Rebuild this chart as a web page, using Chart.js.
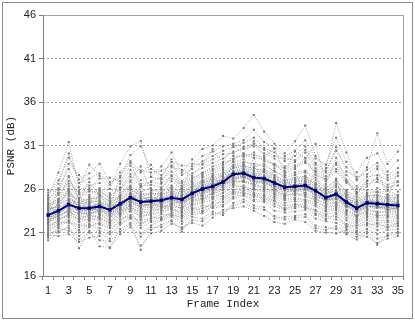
<!DOCTYPE html>
<html>
<head>
<meta charset="utf-8">
<script src="https://cdn.jsdelivr.net/npm/chart.js@4.4.0/dist/chart.umd.min.js"></script>
<style>
  body { margin: 0; background: #fff; }
  #wrap { width: 415px; height: 321px; }
</style>
</head>
<body>
<div id="wrap"><canvas id="psnr"></canvas></div>
<script>
// frame indices on the x axis
var frames = [];
for (var f = 1; f <= 35; f++) frames.push(String(f));

var yTicks = [16, 21, 26, 31, 36, 41, 46];

// average PSNR (bold navy line)
var meanPsnr = [23.0,23.5,24.2,23.8,23.8,24.0,23.6,24.3,25.0,24.5,24.6,24.7,25.0,24.8,25.5,26.0,26.3,26.8,27.7,27.8,27.3,27.2,26.7,26.2,26.3,26.4,25.8,25.0,25.4,24.5,23.8,24.4,24.3,24.2,24.1];

// individual sequences (grey dotted lines)
var seq01 = [25.1,27.9,31.4,26.2,28.8,27.5,26.0,28.9,30.9,31.5,27.4,28.6,30.2,27.9,29.4,30.6,31.0,32.1,31.8,33.0,34.5,32.6,31.2,30.1,31.5,33.3,29.8,28.4,33.6,30.2,27.1,28.5,32.4,28.9,30.3];
var seq02 = [20.1,21.0,21.8,19.2,21.2,19.4,19.3,21.4,22.1,19.0,21.3,21.9,22.4,21.1,22.8,22.6,23.4,23.0,24.4,24.8,24.1,23.9,22.6,22.8,22.9,23.1,21.8,21.6,21.4,20.8,20.2,20.9,19.6,20.8,21.1];
var seq03 = [24.2,24.9,26.3,25.0,24.6,25.8,24.9,25.2,26.8,25.7,26.1,25.5,26.9,26.0,26.6,27.4,27.8,28.3,29.1,29.4,28.6,28.9,28.0,27.5,27.9,28.1,27.3,26.2,26.9,25.8,25.1,25.9,25.6,25.8,25.3];
var seq04 = [21.8,22.3,23.0,22.6,22.9,22.8,22.1,23.4,23.8,23.4,23.2,23.9,23.7,23.5,24.3,24.9,25.1,25.6,26.5,26.2,26.0,25.9,25.4,24.9,25.0,24.8,24.5,23.9,24.0,23.2,22.6,23.1,23.0,22.9,22.8];
var seq05 = [23.5,24.1,25.2,24.0,23.6,24.5,23.9,24.8,25.6,24.9,25.0,24.3,25.4,25.1,25.9,26.5,26.9,27.0,28.1,28.4,27.7,27.9,27.1,26.5,26.8,26.9,26.2,25.4,25.9,25.0,24.1,24.8,24.5,24.6,24.4];
var seq06 = [22.4,22.9,23.5,23.3,23.1,23.6,23.0,23.8,24.3,24.0,24.1,24.2,24.6,24.3,24.9,25.5,25.7,26.3,27.2,27.3,26.8,26.6,26.2,25.8,25.7,25.9,25.3,24.6,24.8,24.0,23.3,23.9,23.8,23.7,23.6];
var seq07 = [24.8,26.1,28.3,25.9,26.4,26.7,25.5,26.6,28.2,27.0,27.4,27.1,28.0,26.9,27.8,28.4,29.0,29.5,30.3,30.6,30.9,30.1,29.5,28.6,29.1,30.2,28.4,27.5,29.0,27.6,26.3,27.4,27.6,27.0,27.5];
var seq08 = [21.2,21.9,22.4,21.3,22.0,21.5,21.1,22.5,23.0,22.1,22.4,22.8,23.2,22.6,23.5,23.8,24.3,24.5,25.4,25.7,25.1,25.0,24.3,23.8,24.0,24.1,23.2,22.9,22.8,22.0,21.5,22.1,21.7,21.9,21.8];
var seq09 = [23.9,23.2,24.7,24.4,24.2,23.3,24.3,23.9,25.3,24.6,24.0,25.1,24.8,24.4,25.2,26.2,26.0,27.3,27.9,28.0,27.6,27.1,26.9,26.1,26.5,26.8,25.9,25.0,25.6,24.6,23.9,24.7,24.2,24.3,24.0];
var seq10 = [22.1,23.6,23.9,23.0,23.5,23.9,22.6,24.1,24.6,23.9,24.4,23.9,24.2,24.7,25.0,25.3,26.0,26.5,26.9,27.6,26.5,27.0,26.0,25.5,25.9,25.6,25.0,24.8,24.9,24.3,23.0,24.0,24.0,23.6,23.9];
var seq11 = [25.6,27.0,29.6,27.1,27.8,28.9,26.8,27.3,29.9,30.9,28.3,27.6,29.1,28.7,28.6,29.8,30.3,30.9,31.2,31.6,32.8,31.4,30.7,29.8,30.4,31.6,29.5,28.8,31.9,29.1,27.9,29.6,30.1,28.0,29.3];
var seq12 = [20.7,20.6,20.8,19.9,20.4,20.6,19.2,20.8,21.6,19.5,20.9,21.2,22.0,21.6,22.1,21.8,22.7,23.6,23.8,24.0,23.5,22.9,22.2,22.0,22.5,22.2,21.2,21.0,20.9,21.3,20.8,20.5,19.8,20.3,20.6];
var seq13 = [23.3,23.8,24.5,24.2,23.9,24.2,23.8,24.5,25.2,24.7,24.8,24.9,25.2,25.0,25.7,26.1,26.6,26.9,27.8,28.0,27.5,27.3,26.8,26.4,26.5,26.6,26.0,25.2,25.5,24.7,24.0,24.6,24.5,24.4,24.3];
var seq14 = [22.7,23.2,24.0,23.5,23.6,23.7,23.3,24.0,24.7,24.2,24.3,24.5,24.8,24.6,25.3,25.8,26.1,26.6,27.5,27.6,27.1,27.0,26.5,26.0,26.1,26.2,25.6,24.8,25.2,24.3,23.6,24.2,24.1,24.0,23.9];
var seq15 = [24.5,25.3,26.9,25.4,25.3,26.1,25.3,25.9,27.4,26.3,26.5,26.2,27.2,26.4,27.1,27.9,28.3,28.8,29.5,29.9,29.6,29.4,28.7,28.1,28.5,29.0,27.9,26.9,28.0,26.7,25.7,26.6,26.8,26.2,26.4];
var seq16 = [21.5,22.6,22.9,22.2,22.6,22.4,21.8,23.0,23.5,22.8,23.1,23.3,23.8,23.1,24.1,24.4,24.8,25.2,25.9,26.1,25.6,25.4,24.9,24.4,24.6,24.5,24.0,23.4,23.6,22.7,22.1,22.7,22.4,22.4,22.3];
var seq17 = [25.3,26.6,30.1,26.7,27.2,27.8,26.5,27.9,29.2,28.1,27.9,28.1,28.7,27.6,28.3,29.2,29.8,30.4,30.8,31.3,31.9,30.7,30.2,29.2,29.8,30.9,29.0,28.1,30.4,28.5,27.0,28.2,29.0,27.6,28.4];
var seq18 = [23.6,24.4,25.6,24.6,24.8,25.1,24.4,25.0,26.0,25.3,25.5,25.2,26.1,25.6,26.2,26.9,27.3,27.7,28.6,28.8,28.2,28.3,27.6,27.0,27.3,27.5,26.7,25.8,26.4,25.4,24.6,25.3,25.2,25.1,24.9];
var seq19 = [20.4,21.5,21.2,20.6,21.6,20.9,20.3,21.9,22.6,20.9,21.8,22.4,22.8,22.0,23.1,23.2,23.8,24.0,24.9,25.2,24.6,24.5,23.5,23.3,23.4,23.6,22.6,22.3,22.1,21.5,21.0,21.4,20.8,21.3,21.4];
var seq20 = [22.9,23.4,24.3,23.8,23.4,24.0,23.5,24.2,24.9,24.4,24.5,24.6,24.9,24.8,25.4,26.0,26.2,26.8,27.6,27.8,27.2,27.1,26.6,26.1,26.2,26.3,25.7,25.0,25.3,24.4,23.7,24.3,24.2,24.1,24.0];
var seq21 = [22.0,24.6,25.8,22.9,25.1,23.0,22.4,25.6,26.3,23.1,25.9,24.0,26.4,23.4,26.8,25.1,27.6,25.9,29.2,26.8,29.6,26.1,28.4,24.9,27.9,25.3,28.1,23.8,27.2,23.5,25.6,23.2,26.1,22.9,25.7];
var seq22 = [24.6,22.5,23.1,25.7,22.4,25.9,24.9,23.0,24.1,26.4,23.5,26.0,24.0,26.1,24.4,27.3,25.0,28.1,26.4,29.0,26.1,28.6,25.3,27.6,25.0,27.9,24.3,26.5,23.9,25.9,22.5,25.6,22.9,25.4,22.6];
var seq23 = [23.1,25.9,27.4,24.8,26.8,25.3,23.9,27.5,29.0,26.2,26.9,27.3,29.4,25.9,28.9,28.8,30.6,29.1,31.0,30.1,31.5,29.8,30.6,27.9,30.3,29.5,31.2,26.6,29.6,27.1,25.4,27.0,28.3,25.1,27.9];
var seq24 = [21.0,22.0,22.7,21.6,22.3,21.9,21.5,22.2,23.4,21.8,22.8,22.6,23.4,22.9,23.9,23.5,24.5,25.0,25.7,25.5,25.3,24.8,24.7,23.6,24.3,23.8,23.6,22.5,23.1,21.7,21.8,21.9,22.0,21.6,22.1];
var seq25 = [23.7,24.0,26.0,23.6,24.4,24.7,23.2,24.6,25.9,25.2,24.7,25.4,25.7,25.3,26.0,26.7,27.1,27.5,28.4,28.6,28.0,28.0,27.3,26.7,27.1,27.2,26.5,25.5,26.2,25.2,24.3,25.1,25.0,24.8,24.7];
var seq26 = [22.6,22.8,23.7,23.1,23.3,23.4,22.9,23.6,24.5,23.8,23.9,24.0,24.4,24.1,25.1,25.6,25.9,26.4,27.3,27.4,26.9,26.8,26.4,25.9,25.9,26.0,25.4,24.7,24.9,24.1,23.4,24.0,23.9,23.8,23.7];
var seq27 = [24.0,24.7,27.5,24.9,25.9,25.4,24.6,26.1,27.0,28.6,25.8,25.9,27.6,26.2,26.9,27.6,28.1,28.5,29.8,29.7,30.2,29.2,28.9,27.8,28.3,29.6,27.6,27.1,28.8,26.9,25.5,26.3,27.3,25.9,26.8];
var seq28 = [20.9,21.2,21.5,20.2,21.0,20.1,20.0,21.1,21.9,20.5,21.6,21.6,22.3,21.4,22.4,22.3,23.1,23.3,24.1,24.5,23.8,23.6,22.9,22.5,22.7,22.8,21.5,21.3,21.7,21.0,20.5,21.1,20.3,20.6,20.9];
var seq29 = [23.2,23.5,24.1,23.9,24.0,23.8,23.7,24.3,25.1,24.6,24.7,24.8,25.1,24.9,25.6,26.0,26.4,26.8,27.7,27.9,27.4,27.2,26.7,26.3,26.4,26.5,25.9,25.1,25.5,24.6,23.9,24.5,24.4,24.3,24.2];
var seq30 = [22.3,23.0,23.3,22.9,22.7,23.1,22.4,23.6,24.1,23.6,23.7,23.6,24.1,23.8,24.6,25.2,25.4,26.0,26.8,27.0,26.5,26.4,25.9,25.3,25.4,25.5,24.9,24.2,24.4,23.6,22.9,23.5,23.4,23.3,23.2];
var seq31 = [25.9,25.6,28.9,27.6,26.1,27.2,27.3,26.9,28.7,27.9,28.8,26.8,28.5,28.2,27.5,28.9,29.4,30.0,30.1,30.8,31.2,30.5,29.8,29.5,29.3,30.5,28.8,27.9,30.8,28.0,27.4,27.7,28.6,27.3,27.9];
var seq32 = [21.4,22.2,22.1,21.9,21.7,22.1,21.6,22.8,22.7,22.4,22.6,23.1,23.0,22.8,23.7,24.1,24.0,24.8,25.6,25.9,25.4,25.2,24.6,24.1,24.2,24.3,23.5,23.1,23.3,22.4,21.8,22.4,22.1,22.2,22.0];
var seq33 = [24.3,24.8,25.9,24.4,25.0,24.9,24.1,25.3,26.4,25.5,25.3,25.6,26.3,25.7,26.4,27.0,27.5,27.9,28.8,29.1,28.9,28.6,28.1,27.3,27.6,28.0,27.0,26.0,27.1,25.6,24.8,25.5,25.7,25.3,25.2];
var seq34 = [22.2,22.7,23.6,22.4,23.2,22.6,22.2,23.3,24.2,22.6,23.4,23.8,24.3,23.7,24.6,24.8,25.4,25.9,26.6,26.9,26.3,26.2,25.6,25.1,25.3,25.3,24.6,24.0,24.2,23.4,22.8,23.3,22.9,23.1,23.0];
var seq35 = [23.8,23.9,24.9,24.3,24.5,24.6,24.0,24.8,25.5,24.8,25.1,25.0,25.5,25.2,25.8,26.4,26.7,27.2,28.0,28.2,27.8,27.6,27.2,26.6,26.9,27.0,26.3,25.5,25.8,25.0,24.3,24.9,24.8,24.7,24.5];
var seq36 = [22.8,23.1,24.4,23.4,23.7,23.5,23.1,24.1,24.9,24.1,24.2,24.4,24.9,24.5,25.2,25.8,26.0,26.5,27.4,27.5,27.0,26.9,26.3,25.9,26.0,26.1,25.5,24.7,25.0,24.2,23.5,24.1,24.0,23.9,23.8];
var seq37 = [23.4,24.2,24.8,23.2,24.1,24.3,24.2,23.7,25.4,24.3,25.2,24.4,25.6,24.6,25.5,26.3,26.5,27.1,27.6,28.1,27.1,27.5,26.5,26.4,26.0,26.7,25.7,25.3,25.2,24.8,23.6,24.6,24.6,24.1,24.5];
var seq38 = [21.9,23.3,23.4,22.8,23.3,23.2,22.7,23.5,24.0,23.2,23.6,24.1,23.9,23.9,24.8,24.9,25.6,26.1,26.9,26.8,26.6,26.0,25.8,25.2,25.6,25.1,24.8,24.4,24.5,23.9,22.9,23.7,23.2,23.5,23.4];
var seq39 = [24.9,25.5,26.6,25.6,25.7,25.6,25.1,26.2,27.7,26.6,26.8,26.6,27.5,26.7,27.3,27.8,28.6,29.0,29.4,30.0,29.9,29.6,28.8,28.4,28.7,29.2,28.1,27.2,28.3,26.9,26.0,26.9,27.1,26.5,26.9];
var seq40 = [20.6,21.7,22.3,21.0,21.9,21.2,20.8,22.0,22.8,21.5,22.2,22.5,23.0,22.3,23.3,23.4,24.0,24.2,25.1,25.4,24.8,24.7,24.0,23.6,23.8,23.9,23.0,22.6,22.5,21.8,21.2,21.8,21.3,21.6,21.7];
var seq41 = [23.0,23.7,24.6,24.1,23.8,24.4,23.4,24.4,25.3,24.5,24.9,24.7,25.3,24.9,25.6,26.2,26.5,27.0,27.9,27.7,27.6,27.4,26.9,26.2,26.6,26.4,26.1,25.0,25.7,24.5,23.8,24.7,24.6,24.2,24.4];
var seq42 = [22.5,23.3,23.8,23.6,23.0,23.9,23.1,24.0,24.5,24.2,24.0,24.3,24.7,24.4,25.0,25.7,25.9,26.6,27.1,27.5,26.9,26.7,26.3,26.0,25.8,26.1,25.2,24.7,25.1,24.1,23.4,24.1,23.9,23.9,23.7];
var seq43 = [24.1,24.5,25.4,24.7,24.3,25.3,24.6,25.1,26.2,25.0,25.6,25.3,25.9,25.4,26.3,26.8,27.0,27.6,28.4,28.7,28.4,28.1,27.5,26.9,27.2,27.4,26.6,25.7,26.6,25.3,24.5,25.2,25.3,24.9,25.0];
var seq44 = [21.6,22.4,23.2,22.5,22.5,22.7,22.0,23.2,23.7,23.0,23.0,23.5,23.6,23.3,24.2,24.6,25.0,25.5,26.2,26.4,25.9,25.7,25.1,24.7,24.8,24.7,24.2,23.6,23.8,23.0,22.3,22.9,22.7,22.7,22.6];

var sequences = [seq01,seq02,seq03,seq04,seq05,seq06,seq07,seq08,seq09,seq10,
                 seq11,seq12,seq13,seq14,seq15,seq16,seq17,seq18,seq19,seq20,
                 seq21,seq22,seq23,seq24,seq25,seq26,seq27,seq28,seq29,seq30,
                 seq31,seq32,seq33,seq34,seq35,seq36,seq37,seq38,seq39,seq40,
                 seq41,seq42,seq43,seq44];

var datasets = [{
  data: meanPsnr,
  borderColor: "#000080",
  backgroundColor: "#000080",
  borderWidth: 2,
  pointRadius: 1,
  pointStyle: "rect",
  tension: 0
}];
sequences.forEach(function (s) {
  datasets.push({
    data: s,
    borderColor: "rgba(140,140,140,0.8)",
    backgroundColor: "#7a7a7a",
    borderWidth: 1,
    borderDash: [1, 1.5],
    pointRadius: 1.4,
    pointStyle: "rect",
    pointBorderWidth: 0,
    tension: 0
  });
});

// outer box + plot frame + axis lines
var frameBox = {
  id: "frameBox",
  beforeDraw: function (chart) {
    var c = chart.ctx;
    c.save();
    c.fillStyle = "#fff";
    c.fillRect(0, 0, chart.width, chart.height);
    c.strokeStyle = "#8c8c8c";
    c.lineWidth = 1;
    c.strokeRect(2.5, 2.5, chart.width - 5, chart.height - 5);
    c.restore();
  },
  afterDraw: function (chart) {
    var a = chart.chartArea, c = chart.ctx;
    c.save();
    c.strokeStyle = "#a0a0a0";
    c.lineWidth = 1;
    c.beginPath();
    c.moveTo(a.left, a.top + 0.5);
    c.lineTo(a.right + 0.5, a.top + 0.5);
    c.lineTo(a.right + 0.5, a.bottom);
    c.stroke();
    c.strokeStyle = "#808080";
    c.beginPath();
    c.moveTo(a.left + 0.5, a.top);
    c.lineTo(a.left + 0.5, a.bottom + 0.5);
    c.lineTo(a.right + 0.5, a.bottom + 0.5);
    c.stroke();
    c.restore();
  }
};

new Chart(document.getElementById("psnr"), {
  type: "line",
  data: { labels: frames, datasets: datasets },
  plugins: [frameBox],
  options: {
    responsive: true,
    maintainAspectRatio: false,
    animation: false,
    layout: { padding: { left: 0, top: 15, right: 12, bottom: 8 } },
    plugins: { legend: { display: false }, tooltip: { enabled: false } },
    scales: {
      x: {
        offset: true,
        grid: { offset: true, drawOnChartArea: false, tickLength: 4, color: "#808080" },
        border: { display: false },
        ticks: {
          autoSkip: false, maxRotation: 0, padding: 4,
          color: "#222", font: { family: "Liberation Sans", size: 11 },
          callback: function (v, i) { return i % 2 === 0 ? frames[i] : ""; }
        },
        title: { display: true, text: "Frame Index", color: "#222",
                 font: { family: "Liberation Mono", size: 11 }, padding: { top: 4, bottom: 2 } },
        afterFit: function (s) { s.height = 37; }
      },
      y: {
        min: 16, max: 46,
        afterBuildTicks: function (s) { s.ticks = yTicks.map(function (v) { return { value: v }; }); },
        grid: { color: "#a0a0a0", tickBorderDash: [], tickLength: 4, tickColor: "#808080" },
        border: { display: false, dash: [2, 2] },
        ticks: { color: "#222", padding: 3, font: { family: "Liberation Sans", size: 11 } },
        title: { display: true, text: "PSNR (dB)", color: "#222",
                 font: { family: "Liberation Mono", size: 11 }, padding: { top: 4, bottom: 2 } },
        afterFit: function (s) { s.width = 43; }
      }
    }
  }
});
</script>
</body>
</html>
